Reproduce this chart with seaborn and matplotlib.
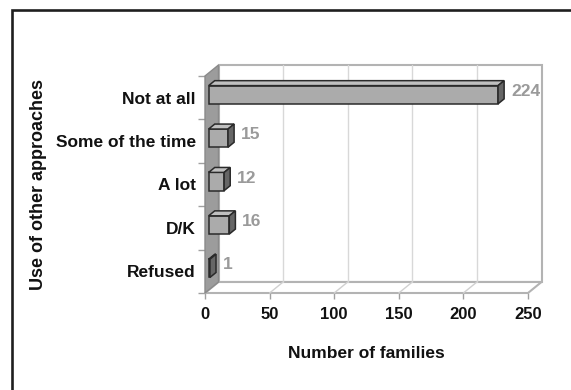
import matplotlib
matplotlib.use("Agg")
import matplotlib.pyplot as plt
from matplotlib.patches import Polygon, Rectangle
import seaborn as sns
import pandas as pd

# Survey answers and number of families giving each answer
categories = ["Not at all", "Some of the time", "A lot", "D/K", "Refused"]
families = [224, 15, 12, 16, 1]
x_ticks = [0, 50, 100, 150, 200, 250]

sns.set_style("white")
plt.rcParams["font.family"] = ["Liberation Sans", "DejaVu Sans"]
plt.rcParams["font.weight"] = "bold"

W, H = 571, 390
fig = plt.figure(figsize=(W / 100, H / 100), dpi=100)
ax = fig.add_axes([205 / W, 97 / H, 323 / W, 217 / H])

df = pd.DataFrame({"approach": categories, "families": families})
sns.barplot(data=df, x="families", y="approach", orient="h", color="#ababab",
            saturation=1, width=0.42, edgecolor="#2a2a2a", linewidth=1.1,
            ax=ax, zorder=5)
bars = list(ax.containers[0])

X_MAX = x_ticks[-1]
ax.set_xlim(0, X_MAX)
ax.set_ylim(len(categories) - 0.5, -0.5)
y_bot, y_top = len(categories) - 0.5, -0.5

# depth of the pseudo-3D box, in data units
DX = 13.5 / (323 / X_MAX)
DY = 11 / (217 / len(categories))

wall_edge = "#b3b3b3"
# back wall
ax.add_patch(Rectangle((DX, y_top - DY), X_MAX, y_bot - y_top, facecolor="white",
                       edgecolor=wall_edge, lw=1.5, zorder=0.5, clip_on=False))
# floor
ax.add_patch(Polygon([(0, y_bot), (X_MAX, y_bot), (X_MAX + DX, y_bot - DY), (DX, y_bot - DY)],
                     closed=True, facecolor="white", edgecolor=wall_edge, lw=1.5,
                     zorder=0.6, clip_on=False))
# left side wall
ax.add_patch(Polygon([(0, y_bot), (0, y_top), (DX, y_top - DY), (DX, y_bot - DY)],
                     closed=True, facecolor="#9c9c9c", edgecolor="#8a8a8a", lw=1,
                     zorder=1, clip_on=False))
# grid on back wall and floor
for t in x_ticks[1:-1]:
    ax.plot([t + DX, t + DX], [y_top - DY, y_bot - DY], color="#d8d8d8", lw=1,
            zorder=0.7, clip_on=False)
for t in x_ticks[1:-1]:
    ax.plot([t, t + DX], [y_bot, y_bot - DY], color="#d0d0d0", lw=1,
            zorder=0.7, clip_on=False)

# 3D bars: shift front faces into the box and add top/side faces
f0, f1 = 0.27, 0.72
bdx, bdy = (f1 - f0) * DX, (f1 - f0) * DY
for bar, v in zip(bars, families):
    bar.set_x(bar.get_x() + f0 * DX)
    bar.set_y(bar.get_y() - f0 * DY)
    x0 = bar.get_x()
    x1 = x0 + bar.get_width()
    yt = bar.get_y()
    yb = yt + bar.get_height()
    ax.add_patch(Polygon([(x0, yt), (x1, yt), (x1 + bdx, yt - bdy), (x0 + bdx, yt - bdy)],
                         closed=True, facecolor="#c0c0c0", edgecolor="#2a2a2a", lw=1.1,
                         zorder=5, clip_on=False))
    ax.add_patch(Polygon([(x1, yt), (x1, yb), (x1 + bdx, yb - bdy), (x1 + bdx, yt - bdy)],
                         closed=True, facecolor="#666666", edgecolor="#2a2a2a", lw=1.1,
                         zorder=5, clip_on=False))
    ax.annotate(f"{v}", xy=(x1 + bdx, (yt + yb) / 2 - 0.7 * bdy), xytext=(5, 0),
                textcoords="offset points", ha="left", va="center", fontsize=12.5,
                fontweight="bold", color="#9a9a9a", zorder=6, annotation_clip=False)

for s in ax.spines.values():
    s.set_visible(False)
ax.grid(False)

ax.set_xticks(x_ticks)
ax.set_xticklabels([str(t) for t in x_ticks])
ax.tick_params(axis="x", length=4, width=1, color="#a0a0a0", pad=6, labelsize=12,
               labelcolor="#111111", bottom=True)
ax.set_yticks(range(len(categories)))
ax.set_yticklabels(categories)
ax.set_yticks([i - 0.5 for i in range(len(categories) + 1)], minor=True)
ax.tick_params(axis="y", which="major", length=0, pad=6.5, labelsize=12.5,
               labelcolor="#111111", left=True)
ax.tick_params(axis="y", which="minor", length=5, width=1, color="#a0a0a0", left=True)

ax.set_xlabel("Number of families", fontsize=12.5, fontweight="bold", labelpad=17,
              color="#111111")
ax.set_ylabel("Use of other approaches", fontsize=13, fontweight="bold", color="#111111")
ax.yaxis.set_label_coords(-0.489, 0.5)

# outer frame
fig.add_artist(Rectangle((12 / W, -0.2), 1.2, (H - 10) / H + 0.2, transform=fig.transFigure,
                         fill=False, edgecolor="#1f1f1f", lw=1.9))

fig.savefig("out.png", dpi=100)
